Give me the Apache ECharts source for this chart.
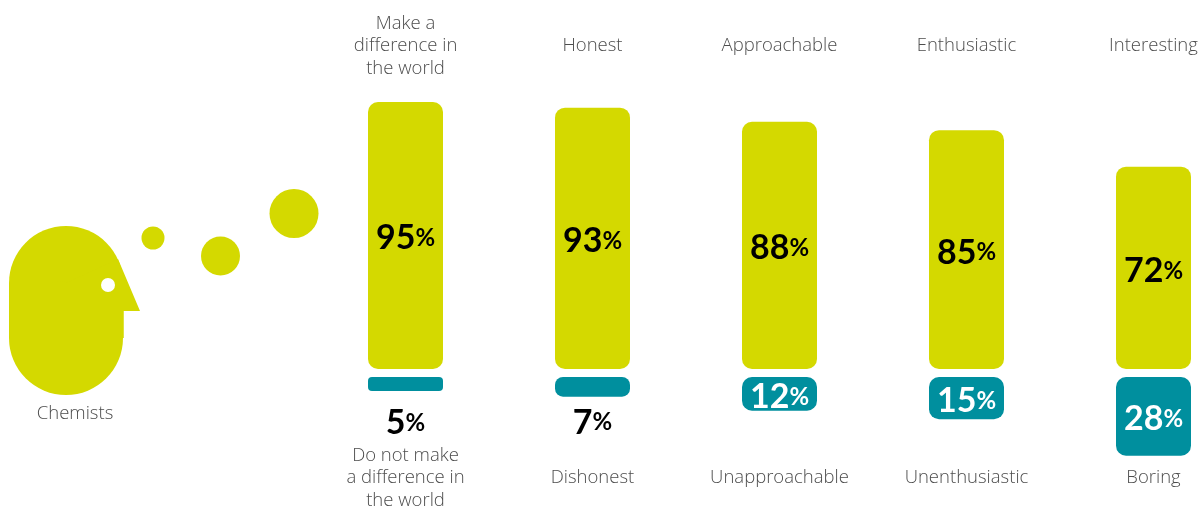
<!DOCTYPE html>
<html><head><meta charset="utf-8">
<style>html,body{margin:0;padding:0;background:#fff}#c{width:1200px;height:506px}</style>
<script src="https://cdn.jsdelivr.net/npm/echarts@6/dist/echarts.min.js"></script>
</head><body><div id="c"></div>
<script>
const positiveTraits = ['Make a\ndifference in\nthe world','Honest','Approachable','Enthusiastic','Interesting'];
const negativeTraits = ['Do not make\na difference in\nthe world','Dishonest','Unapproachable','Unenthusiastic','Boring'];
const positiveValues = [95,93,88,85,72];
const negativeValues = [5,7,12,15,28];
const subjectLabel = 'Chemists';

const LIME='#d4d900', TEAL='#008f9e', TEXT='#4d4d4d', FONT='Lato', LIGHT='Open Sans';
const rich = c => ({
  n:{fontFamily:FONT,fontWeight:700,fontSize:34,color:c},
  p:{fontFamily:FONT,fontWeight:700,fontSize:24,color:c}
});
const fmt = p => '{n|'+p.value+'}{p|%}';
const chart = echarts.init(document.getElementById('c'),null,{renderer:'canvas'});
const axisLab = {interval:0,fontFamily:LIGHT,fontWeight:300,fontSize:18.5,lineHeight:22.5,color:TEXT,verticalAlign:'middle'};
chart.setOption({
  animation:false,
  backgroundColor:'#fff',
  grid:[
    {left:312,top:88,width:935,height:281,outerBoundsMode:'none',containLabel:false},
    {left:312,top:377,width:935,height:100,outerBoundsMode:'none',containLabel:false}
  ],
  xAxis:[
    {gridIndex:0,type:'category',position:'top',data:positiveTraits,axisLine:{show:false},axisTick:{show:false},
      axisLabel:Object.assign({},axisLab,{margin:42})},
    {gridIndex:1,type:'category',position:'bottom',data:negativeTraits,axisLine:{show:false},axisTick:{show:false},
      axisLabel:Object.assign({},axisLab,{margin:1})}
  ],
  yAxis:[
    {gridIndex:0,type:'value',min:0,max:100,show:false},
    {gridIndex:1,type:'value',min:0,max:35.6,inverse:true,show:false}
  ],
  series:[
    {type:'bar',xAxisIndex:0,yAxisIndex:0,barWidth:75,data:positiveValues,
      itemStyle:{color:LIME,borderRadius:10},
      label:{show:true,position:'inside',offset:[0,3],formatter:fmt,rich:rich('#000')}},
    {type:'bar',xAxisIndex:1,yAxisIndex:1,barWidth:75,
      data:negativeValues.map(v=>{
        if(v<10) return {value:v,
          itemStyle:{borderRadius:v<6?4:8},
          label:{position:'bottom',distance:v<6?14:8,offset:[0,1],formatter:fmt,rich:rich('#000')}};
        return {value:v};
      }),
      itemStyle:{color:TEAL,borderRadius:10},
      label:{show:true,position:'inside',offset:[0,3],formatter:fmt,rich:rich('#fff')}}
  ],
  graphic:[
    {type:'circle',shape:{cx:66,cy:283,r:57},style:{fill:LIME}},
    {type:'circle',shape:{cx:66,cy:338,r:57},style:{fill:LIME}},
    {type:'rect',shape:{x:9,y:283,width:114.5,height:55},style:{fill:LIME}},
    {type:'polygon',shape:{points:[[66,283],[118,259],[140,311],[123.5,311],[123.5,338],[66,338]]},style:{fill:LIME}},
    {type:'circle',shape:{cx:108,cy:285,r:7},style:{fill:'#fff'}},
    {type:'circle',shape:{cx:153,cy:238,r:11.5},style:{fill:LIME}},
    {type:'circle',shape:{cx:220.5,cy:256,r:19.5},style:{fill:LIME}},
    {type:'circle',shape:{cx:294,cy:213.5,r:24.5},style:{fill:LIME}},
    {type:'text',x:75,y:414,style:{text:subjectLabel,fill:TEXT,font:'300 18.5px "'+LIGHT+'"',textAlign:'center',textVerticalAlign:'middle'}}
  ]
});
</script></body></html>
